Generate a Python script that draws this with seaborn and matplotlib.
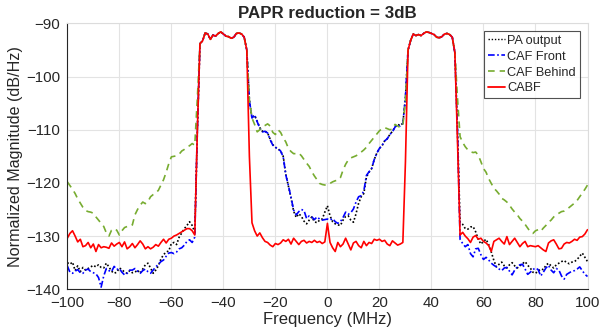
import numpy as np
import pandas as pd
import seaborn as sns
import matplotlib.pyplot as plt

# frequency grid (MHz), 1 MHz steps from -100 to 100
freq = np.arange(-100, 101)

# in-band values, shared by all four curves
band_left = [-93.8, -93.3, -91.8, -92.0, -93.0, -92.2, -92.4, -91.9, -91.6, -92.0,
             -92.4, -92.5, -92.8, -92.6, -91.9, -91.8, -92.0, -92.6, -95.0]   # -49 .. -31
band_right = [-95.0, -93.2, -92.0, -92.3, -92.1, -92.3, -91.9, -91.6, -91.7, -91.9,
              -92.1, -92.6, -92.7, -92.5, -92.0, -91.9, -92.1, -92.6, -95.5]  # 31 .. 49

# PA output
pa_low = [-135.0, -135.3, -134.9, -136.5, -135.6, -136.7, -135.9, -136.4, -136.1, -135.8,
          -135.5, -135.8, -135.4, -135.9, -136.0, -135.1, -135.8, -136.6, -137.0, -136.8,
          -136.0, -136.3, -136.8, -137.0, -136.5, -136.9, -136.8, -136.4, -137.0, -136.2,
          -135.4, -135.1, -136.0, -137.0, -136.4, -135.6, -134.3, -133.5, -133.0, -132.8,
          -131.4, -131.2, -131.6, -130.2, -129.4, -128.6, -128.0, -127.3, -128.0, -129.3,
          -110.0]
pa_mid = [-104.5, -107.8, -107.3, -108.4, -109.6, -110.3, -110.3, -110.6, -111.8, -112.8,
          -113.3, -113.6, -114.0, -115.0, -118.4, -120.6, -122.8, -125.3, -126.5, -125.8,
          -126.3, -127.2, -127.7, -127.0, -126.4, -127.3, -127.5, -127.0, -126.8, -125.5,
          -124.3, -126.2, -127.3, -127.7, -127.9, -128.0, -127.0, -126.3, -126.2, -127.0,
          -127.4, -125.8, -123.8, -122.6, -122.0, -118.9, -118.0, -117.3, -115.6, -114.4,
          -113.5, -113.0, -112.1, -111.7, -110.9, -110.3, -109.4, -109.0, -109.2, -108.8,
          -104.0]
pa_high = [-110.0, -127.4, -127.8, -128.6, -128.7, -128.3, -128.2, -129.2, -130.6, -131.5,
           -131.0, -130.6, -131.6, -133.0, -134.6, -135.8, -135.3, -134.9, -135.6, -136.0,
           -135.4, -135.0, -135.6, -136.0, -135.6, -135.2, -134.8, -135.5, -136.0, -136.8,
           -137.0, -136.6, -136.2, -136.3, -135.5, -135.1, -135.6, -136.0, -135.4, -135.1,
           -134.8, -134.6, -135.0, -135.2, -134.9, -134.8, -134.4, -133.8, -133.2, -134.0,
           -134.8]

# CAF Front
front_low = [-135.6, -136.8, -137.0, -136.6, -136.3, -136.9, -137.0, -136.4, -136.2, -136.7,
             -136.9, -137.1, -137.8, -139.6, -137.5, -136.1, -136.5, -136.7, -135.7, -136.3,
             -136.1, -136.8, -137.3, -137.0, -136.4, -136.4, -136.1, -136.6, -137.0, -136.5,
             -136.2, -136.7, -137.0, -136.4, -135.8, -135.3, -134.8, -134.5, -133.8, -133.2,
             -133.1, -133.3, -133.0, -132.4, -132.2, -131.7, -131.0, -130.7, -131.2, -130.2,
             -110.0]
front_mid = [-104.5, -107.8, -107.2, -108.5, -109.7, -110.4, -110.3, -110.6, -111.9, -112.9,
             -113.3, -113.6, -114.0, -115.1, -118.5, -120.5, -122.7, -125.1, -126.0, -125.4,
             -125.0, -125.2, -126.7, -126.2, -126.4, -126.9, -126.4, -126.8, -127.0, -126.9,
             -126.8, -127.0, -126.7, -127.3, -127.6, -127.3, -126.5, -125.5, -125.9, -125.6,
             -124.9, -123.6, -122.6, -122.4, -121.5, -118.6, -117.9, -117.3, -115.6, -114.4,
             -113.5, -113.0, -112.1, -111.7, -110.9, -110.4, -109.5, -109.1, -109.3, -108.8,
             -104.0]
front_high = [-110.0, -130.6, -131.4, -132.0, -131.6, -133.3, -133.9, -132.4, -132.3, -133.5,
              -134.4, -134.0, -134.5, -135.1, -135.5, -135.8, -136.2, -136.5, -136.0, -135.9,
              -136.6, -137.3, -136.4, -135.8, -135.4, -135.3, -136.2, -137.2, -136.8, -136.3,
              -136.0, -136.3, -137.5, -136.8, -136.0, -135.5, -136.4, -136.9, -136.1, -136.4,
              -137.5, -138.1, -137.2, -136.9, -136.6, -136.5, -136.2, -135.8, -136.5, -137.2,
              -137.6]

# CAF Behind
behind_low = [-119.8, -120.5, -121.2, -122.0, -123.0, -123.8, -124.6, -125.2, -125.4, -125.5,
              -125.7, -126.4, -127.0, -127.6, -128.2, -129.4, -130.0, -128.9, -128.6, -128.9,
              -129.8, -129.0, -128.4, -128.2, -128.2, -127.9, -126.0, -125.0, -124.2, -123.6,
              -123.9, -123.5, -122.6, -122.2, -121.9, -121.4, -120.4, -119.4, -118.0, -116.4,
              -115.1, -115.0, -114.9, -114.6, -114.0, -113.7, -113.3, -113.0, -112.6, -112.9,
              -104.0]
behind_mid = [-104.5, -107.8, -109.0, -110.4, -110.0, -109.4, -109.2, -108.9, -109.3, -110.5,
              -110.9, -110.0, -110.5, -111.5, -112.3, -113.5, -114.1, -114.5, -114.5, -114.4,
              -114.9, -115.6, -116.3, -116.9, -117.9, -118.7, -119.4, -120.1, -120.3, -120.4,
              -120.4, -120.1, -119.8, -119.6, -119.5, -119.0, -117.6, -116.5, -115.7, -115.3,
              -115.1, -114.9, -114.6, -114.2, -113.8, -113.3, -112.6, -112.0, -111.4, -110.8,
              -110.2, -109.8, -109.6, -109.8, -110.0, -109.9, -109.0, -109.3, -109.6, -109.2,
              -104.5]
behind_high = [-104.0, -111.3, -112.4, -113.2, -113.8, -114.1, -114.3, -114.2, -114.8, -116.0,
               -117.3, -118.0, -119.2, -120.1, -121.0, -121.5, -122.1, -122.9, -123.2, -123.6,
               -124.2, -124.9, -125.5, -126.0, -126.7, -127.2, -127.8, -128.5, -129.2, -129.5,
               -129.0, -128.8, -129.1, -128.5, -128.0, -127.4, -127.0, -126.4, -126.0, -125.7,
               -125.4, -125.3, -125.0, -124.6, -124.2, -123.8, -123.3, -122.6, -121.9, -121.2,
               -120.4]

# CABF
cabf_low = [-130.4, -129.5, -129.0, -130.0, -131.1, -130.6, -132.0, -131.8, -131.2, -132.2,
            -131.5, -132.9, -131.6, -132.2, -132.0, -132.1, -132.3, -131.3, -131.9, -131.5,
            -131.2, -132.0, -131.1, -132.4, -132.0, -131.4, -132.2, -131.6, -130.9, -131.5,
            -132.4, -132.0, -132.4, -132.1, -131.6, -131.9, -131.2, -130.6, -131.3, -130.6,
            -130.4, -130.0, -129.8, -129.5, -129.2, -128.9, -128.6, -128.6, -129.0, -129.8,
            -110.0]
cabf_mid = [-115.0, -127.5, -129.0, -130.0, -129.4, -130.3, -131.0, -131.2, -131.7, -132.0,
            -131.4, -131.6, -131.3, -130.7, -131.0, -130.6, -131.5, -130.4, -131.0, -131.6,
            -131.0, -130.8, -131.3, -131.0, -131.2, -130.8, -131.2, -131.0, -131.4, -131.1,
            -127.6, -131.2, -132.2, -132.9, -131.2, -132.0, -131.5, -130.4, -131.5, -132.6,
            -131.3, -131.0, -131.8, -132.2, -131.0, -131.8, -131.2, -131.4, -130.6, -130.8,
            -130.6, -131.0, -130.8, -131.5, -131.8, -130.9, -131.3, -131.7, -131.5, -131.2,
            -116.0]
cabf_high = [-112.0, -129.8, -129.3, -130.0, -130.5, -131.2, -130.2, -129.9, -130.6, -130.4,
             -131.0, -131.3, -131.8, -132.9, -131.0, -130.7, -130.4, -131.0, -131.5, -130.1,
             -131.6, -131.0, -130.4, -131.2, -132.0, -131.4, -131.0, -132.0, -131.8, -131.9,
             -132.0, -131.8, -132.2, -132.6, -132.9, -131.3, -130.9, -130.7, -131.5, -132.4,
             -132.3, -131.5, -131.2, -131.3, -131.0, -130.6, -130.8, -130.2, -130.1, -129.6,
             -128.8]

series_names = ['PA output', 'CAF Front', 'CAF Behind', 'CABF']
series_parts = {
    'PA output': (pa_low, pa_mid, pa_high),
    'CAF Front': (front_low, front_mid, front_high),
    'CAF Behind': (behind_low, behind_mid, behind_high),
    'CABF': (cabf_low, cabf_mid, cabf_high),
}

frames = []
for name in series_names:
    low, mid, high = series_parts[name]
    vals = low + band_left + mid + band_right + high
    frames.append(pd.DataFrame({'freq': freq, 'mag': vals, 'series': name}))
df = pd.concat(frames, ignore_index=True)

palette = {'PA output': '#000000', 'CAF Front': '#0000ff',
           'CAF Behind': '#77ac30', 'CABF': '#ff0000'}
dashes = {'PA output': (1, 1.3), 'CAF Front': (4, 1.5, 1, 1.5),
          'CAF Behind': (4, 3), 'CABF': ''}
widths = {'PA output': 1.0, 'CAF Front': 1.2, 'CAF Behind': 1.2, 'CABF': 1.3}

sns.set_style('white')
plt.rcParams['font.family'] = ['Liberation Sans', 'DejaVu Sans']

fig = plt.figure(figsize=(6.12, 3.34), dpi=100)
ax = fig.add_axes([0.110, 0.134, 0.850, 0.796])

sns.lineplot(data=df, x='freq', y='mag', hue='series', style='series',
             hue_order=series_names, style_order=series_names,
             palette=palette, dashes=dashes, linewidth=1.2, ax=ax)

handles, labels = ax.get_legend_handles_labels()
for line in ax.lines:
    lab = line.get_label()
    if lab in widths:
        line.set_linewidth(widths[lab])
for h, lab in zip(handles, labels):
    if lab in widths:
        h.set_linewidth(widths[lab])

ax.set_xlim(-100, 100)
ax.set_ylim(-140, -90)
ax.set_xticks(range(-100, 101, 20))
ax.set_yticks(range(-140, -89, 10))
ax.grid(True, color='#e3e3e3', linewidth=0.8)
ax.set_axisbelow(True)

for side in ['left', 'bottom']:
    ax.spines[side].set_color('#262626')
    ax.spines[side].set_linewidth(0.8)
for side in ['top', 'right']:
    ax.spines[side].set_color('#dcdcdc')
    ax.spines[side].set_linewidth(0.8)

ax.tick_params(direction='in', length=4, width=0.8, colors='#262626',
               labelsize=10.8, top=False, right=False, pad=5)
ax.set_xlabel('Frequency (MHz)', fontsize=12, color='#262626', labelpad=1)
ax.set_ylabel('Normalized Magnitude (dB/Hz)', fontsize=11.6, color='#262626', labelpad=2)
ax.set_title('PAPR reduction = 3dB', fontsize=12.2, fontweight='bold', pad=4)

leg = ax.legend(handles, labels, loc='upper right', fontsize=9.2, frameon=True,
                fancybox=False, handlelength=1.35, handletextpad=0.15,
                labelspacing=0.3, borderpad=0.3, borderaxespad=0.6)
leg.get_frame().set_edgecolor('#262626')
leg.get_frame().set_linewidth(0.8)

fig.savefig('out.png', dpi=100)
